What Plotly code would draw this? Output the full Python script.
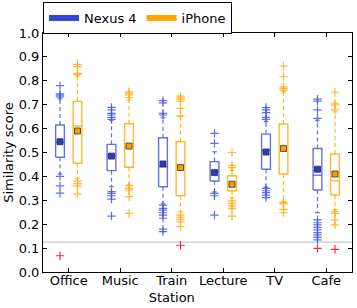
import plotly.graph_objects as go

categories = ["Office", "Music", "Train<br>Station", "Lecture", "TV", "Cafe"]
series_names = ["Nexus 4", "iPhone"]

nexus_q1 = [0.480, 0.424, 0.357, 0.381, 0.430, 0.343]
nexus_med = [0.543, 0.485, 0.441, 0.420, 0.510, 0.405]
nexus_q3 = [0.615, 0.534, 0.562, 0.462, 0.577, 0.517]
nexus_lo = [0.410, 0.357, 0.285, 0.335, 0.355, 0.248]
nexus_hi = [0.725, 0.635, 0.645, 0.503, 0.630, 0.635]
nexus_mean = [0.545, 0.485, 0.452, 0.416, 0.502, 0.430]
nexus_fliers = [
    [0.780, 0.745, 0.740, 0.733, 0.400, 0.360, 0.330],
    [0.689, 0.678, 0.664, 0.657, 0.647, 0.639, 0.336, 0.329, 0.319, 0.305, 0.234],
    [0.717, 0.708, 0.664, 0.657, 0.280, 0.266, 0.259, 0.248, 0.238, 0.225, 0.179, 0.169],
    [0.580, 0.538, 0.329, 0.319, 0.238],
    [0.688, 0.678, 0.667, 0.647, 0.639, 0.350, 0.340, 0.332, 0.322, 0.311],
    [0.723, 0.715, 0.678, 0.643, 0.218, 0.206, 0.197, 0.187, 0.176, 0.165, 0.155, 0.145, 0.134],
]
nexus_red = [[0.068], [], [], [], [], [0.099]]

iphone_q1 = [0.455, 0.438, 0.319, 0.340, 0.410, 0.322]
iphone_med = [0.611, 0.525, 0.437, 0.367, 0.510, 0.382]
iphone_q3 = [0.714, 0.620, 0.545, 0.403, 0.619, 0.494]
iphone_lo = [0.390, 0.365, 0.252, 0.310, 0.295, 0.260]
iphone_hi = [0.820, 0.720, 0.650, 0.425, 0.755, 0.670]
iphone_mean = [0.590, 0.527, 0.437, 0.367, 0.517, 0.410]
iphone_fliers = [
    [0.869, 0.859, 0.831, 0.827, 0.380, 0.370, 0.360, 0.326],
    [0.754, 0.748, 0.741, 0.729, 0.360, 0.350, 0.343, 0.315, 0.245],
    [0.736, 0.729, 0.723, 0.715, 0.685, 0.653, 0.238, 0.229, 0.220, 0.210, 0.190],
    [0.500, 0.445, 0.437, 0.298, 0.287, 0.277, 0.266, 0.234],
    [0.862, 0.817, 0.775, 0.768, 0.761, 0.290, 0.285, 0.262, 0.248],
    [0.752, 0.706, 0.699, 0.678, 0.252, 0.245, 0.218, 0.197],
]
iphone_red = [[], [], [0.112], [], [], [0.095]]

threshold = 0.125

FONT = "DejaVu Sans"
series = [
    dict(name="Nexus 4", q1=nexus_q1, med=nexus_med, q3=nexus_q3, lo=nexus_lo, hi=nexus_hi,
         mean=nexus_mean, fliers=nexus_fliers, red=nexus_red, off=-0.17,
         color="#3347d9", line="rgba(70,88,222,0.85)", meanfill="#2a3bc0"),
    dict(name="iPhone", q1=iphone_q1, med=iphone_med, q3=iphone_q3, lo=iphone_lo, hi=iphone_hi,
         mean=iphone_mean, fliers=iphone_fliers, red=iphone_red, off=0.17,
         color="#ffa500", line="rgba(255,175,30,0.9)", meanfill="#f0a000"),
]

hw = 0.085
cw = 0.045
fig = go.Figure()

for s in series:
    bx, by, wx, wy, cx, cy, fx, fy, rx, ry, mx, my = ([] for _ in range(12))
    for i in range(len(categories)):
        xc = i + 1 + s["off"]
        q1, q3, med = s["q1"][i], s["q3"][i], s["med"][i]
        bx += [xc - hw, xc + hw, xc + hw, xc - hw, xc - hw, None, xc - hw, xc + hw, None]
        by += [q1, q1, q3, q3, q1, None, med, med, None]
        wx += [xc, xc, None, xc, xc, None]
        wy += [q3, s["hi"][i], None, q1, s["lo"][i], None]
        cx += [xc - cw, xc + cw, None, xc - cw, xc + cw, None]
        cy += [s["hi"][i], s["hi"][i], None, s["lo"][i], s["lo"][i], None]
        for v in s["fliers"][i]:
            fx.append(xc); fy.append(v)
        for v in s["red"][i]:
            rx.append(xc); ry.append(v)
        mx.append(xc); my.append(s["mean"][i])
    fig.add_trace(go.Scatter(x=wx, y=wy, mode="lines", line=dict(color=s["line"], width=1.2, dash="4px,3px"),
                             showlegend=False, hoverinfo="skip"))
    fig.add_trace(go.Scatter(x=cx, y=cy, mode="lines", line=dict(color=s["line"], width=1.2),
                             showlegend=False, hoverinfo="skip"))
    fig.add_trace(go.Scatter(x=bx, y=by, mode="lines", line=dict(color=s["line"], width=1.4),
                             showlegend=False, hoverinfo="skip"))
    fig.add_trace(go.Scatter(x=fx, y=fy, mode="markers",
                             marker=dict(symbol="cross-thin", size=6, line=dict(color=s["line"], width=1.2)),
                             showlegend=False, hoverinfo="skip"))
    fig.add_trace(go.Scatter(x=rx, y=ry, mode="markers",
                             marker=dict(symbol="cross-thin", size=6, line=dict(color="#e8304a", width=1.2)),
                             showlegend=False, hoverinfo="skip"))
    fig.add_trace(go.Scatter(x=mx, y=my, mode="markers",
                             marker=dict(symbol="square", size=6, color=s["meanfill"],
                                         line=dict(color="#333333", width=0.8)),
                             showlegend=False, hoverinfo="skip"))

for s in series:
    fig.add_trace(go.Scatter(x=[None], y=[None], mode="lines", name=s["name"],
                             line=dict(color=s["color"], width=6)))

fig.add_shape(type="line", xref="paper", x0=0, x1=1, yref="y", y0=threshold, y1=threshold,
              line=dict(color="#c8c8c8", width=1.2), layer="below")

axis_common = dict(showline=True, linecolor="black", linewidth=1, mirror="allticks",
                   ticks="inside", ticklen=4, tickcolor="black", showgrid=False, zeroline=False,
                   tickfont=dict(family=FONT, size=13, color="black"))
fig.update_xaxes(range=[0.5, 6.5], tickvals=list(range(1, len(categories) + 1)), ticktext=categories,
                 ticklabelstandoff=-4, **axis_common)
fig.update_yaxes(range=[0, 1], dtick=0.1, tickformat=".1f",
                 title=dict(text="Similarity score", font=dict(family=FONT, size=13, color="black"), standoff=2),
                 **axis_common)

fig.update_layout(
    width=357, height=308,
    margin=dict(l=43, r=5, t=33, b=36, autoexpand=False),
    plot_bgcolor="white", paper_bgcolor="white",
    font=dict(family=FONT, size=13, color="black"),
    legend=dict(orientation="h", xref="container", x=43 / 357, xanchor="left",
                yref="container", y=1 - 2 / 308, yanchor="top",
                bordercolor="black", borderwidth=1, bgcolor="white",
                font=dict(family=FONT, size=13), itemwidth=30, tracegroupgap=0),
)

fig.write_html("out.html", config={"displayModeBar": False},
               post_script="document.body.style.margin='0';document.body.style.padding='0';")
